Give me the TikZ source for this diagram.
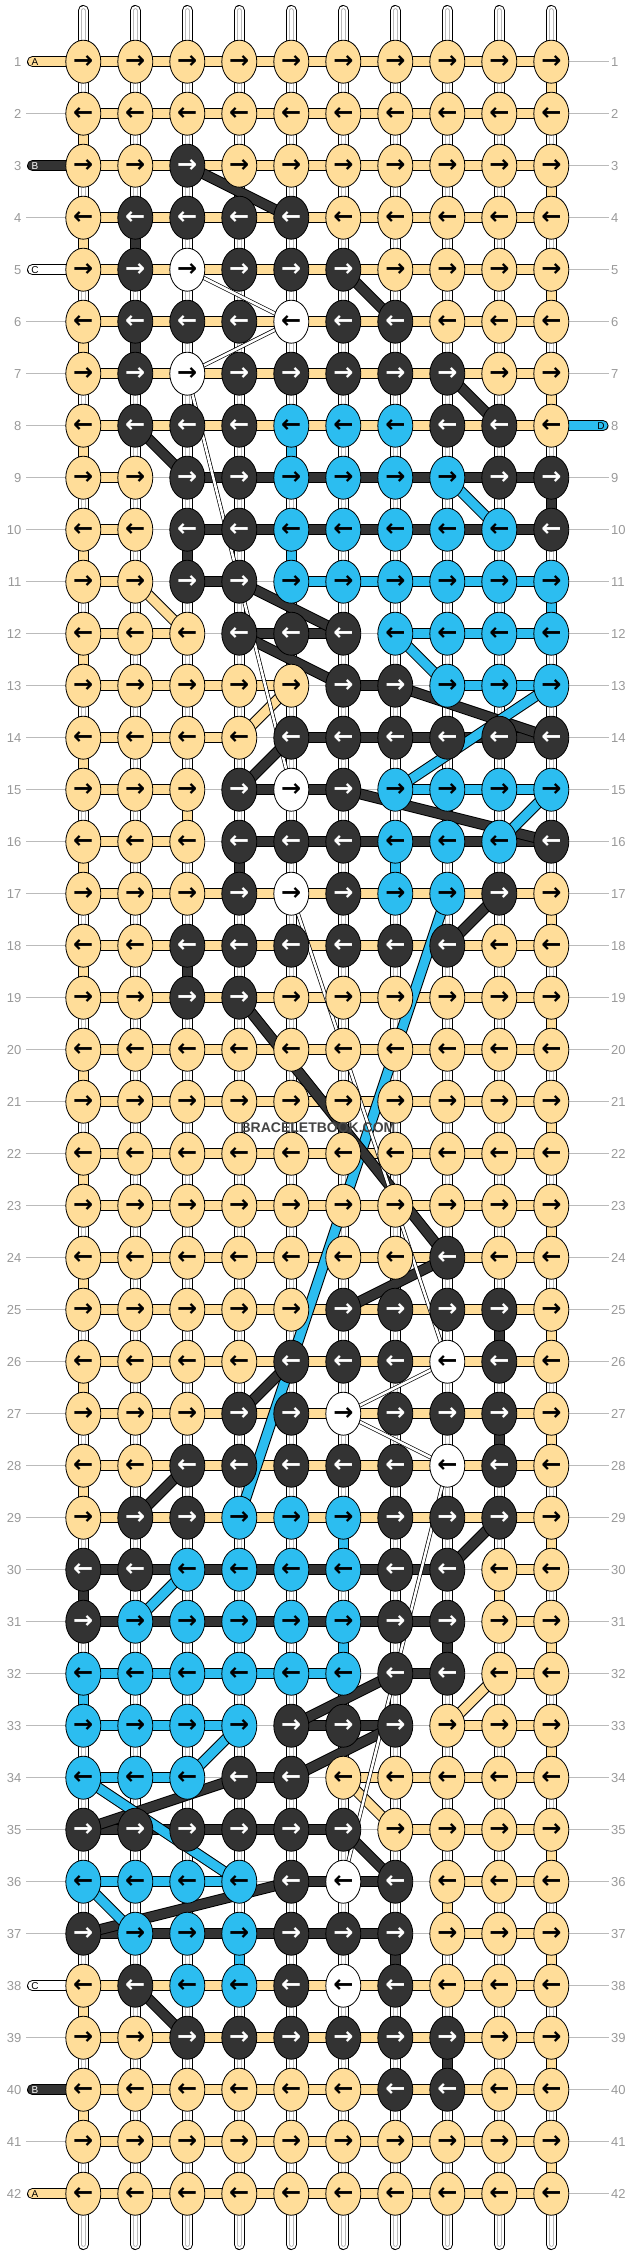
\documentclass[tikz,border=0pt]{standalone}
\usepackage{fontspec}
\setmainfont{Liberation Sans}
\newfontfamily\arrowfont{DejaVu Sans}
\usetikzlibrary{shapes.geometric}
\pgfdeclarelayer{back}
\pgfdeclarelayer{mid}
\pgfsetlayers{back,mid,main}
\definecolor{cA}{HTML}{FFDD99}
\definecolor{cB}{HTML}{333333}
\definecolor{cC}{HTML}{FFFFFF}
\definecolor{cD}{HTML}{2CBDF0}
\definecolor{numgray}{HTML}{999999}
\definecolor{warpgray}{HTML}{BBBBBB}
\definecolor{wmgray}{HTML}{444444}
\tikzset{
  knot/.style={ellipse, draw=black, line width=0.8pt, minimum width=35pt, minimum height=43pt, inner sep=0pt, font=\arrowfont\bfseries\fontsize{24}{24}\selectfont},
  kA/.style={knot, fill=cA, text=black},
  kB/.style={knot, fill=cB, text=white},
  kC/.style={knot, fill=cC, text=black},
  kD/.style={knot, fill=cD, text=black},
  seg/.style={line width=1pt, draw=black, double distance=9pt},
  segA/.style={seg, double=cA},
  segB/.style={seg, double=cB},
  segC/.style={seg, double=cC},
  segD/.style={seg, double=cD},
  segN/.style={opacity=0},
  thread/.style={line width=0.7pt, draw=black, double=white, double distance=2.6pt},
  warpout/.style={line width=11pt, draw=black, line cap=round},
  warpin/.style={line width=9pt, draw=white, line cap=round},
  warpmid/.style={line width=0.8pt, draw=warpgray, double=white, double distance=3pt, line cap=round},
  rowline/.style={draw=warpgray, line width=0.9pt},
  num/.style={font=\fontsize{13}{13}\selectfont, text=numgray, inner sep=0pt},
  strlab/.style={font=\fontsize{10}{10}\selectfont, inner sep=0pt},
}
\def\knotrow#1#2{\edef\kr{#1}\def\kc{0}\expandafter\kparse#2\relax}
\def\kparse#1{\ifx#1\relax\else\pgfmathtruncatemacro\kc{\kc+1}\placeknot{\kr}{\kc}{#1}\expandafter\kparse\fi}
\def\placeknot#1#2#3{\node[k#3] (k-#1-#2) at ({83.3+52*(#2-1)},{61.7+52*(#1-1)}) {\ifodd#1\relax →\else ←\fi};}
\def\segrow#1#2{\edef\sr{#1}\def\sc{0}\expandafter\sparse#2\relax}
\def\sparse#1{\ifx#1\relax\else\pgfmathtruncatemacro\sc{\sc+1}\pgfmathtruncatemacro\sd{\sc+1}\draw[seg#1] (k-\sr-\sc.center) -- (k-\sr-\sd.center);\expandafter\sparse\fi}
\begin{document}
\begin{tikzpicture}[x=1pt,y=-1pt]
\useasboundingbox (0,0) rectangle (636,2256);
% knots
\foreach \r/\s in {1/AAAAAAAAAA,2/AAAAAAAAAA,3/AABAAAAAAA,4/ABBBBAAAAA,5/ABCBBBAAAA,6/ABBBCBBAAA,7/ABCBBBBBAA,8/ABBBDDDBBA,9/AABBDDDDBB,10/AABBDDDDDB,11/AABBDDDDDD,12/AAABBBDDDD,13/AAAAABBDDD,14/AAAABBBBBB,15/AAABCBDDDD,16/AAABBBDDDB,17/AAABCBDDBA,18/AABBBBBBAA,19/AABBAAAAAA,20/AAAAAAAAAA,21/AAAAAAAAAA,22/AAAAAAAAAA,23/AAAAAAAAAA,24/AAAAAAABAA,25/AAAAABBBBA,26/AAAABBBCBA,27/AAABBCBBBA,28/AABBBBBCBA,29/ABBDDDBBBA,30/BBDDDDBBAA,31/BDDDDDBBAA,32/DDDDDDBBAA,33/DDDDBBBAAA,34/DDDBBAAAAA,35/BBBBBBAAAA,36/DDDDBCBAAA,37/BDDDBBBAAA,38/ABDDBCBAAA,39/AABBBBBBAA,40/AAAAAABBAA,41/AAAAAAAAAA,42/AAAAAAAAAA}{\knotrow{\r}{\s}}
% warps and row lines
\begin{pgfonlayer}{back}
\foreach \c in {1,...,10}{
  \coordinate (wt-\c) at ({83.3+52*(\c-1)},10.5);
  \coordinate (wb-\c) at ({83.3+52*(\c-1)},2244.5);
  \draw[warpout] (wt-\c) -- (wb-\c);
  \draw[warpin] (wt-\c) -- (wb-\c);
  \draw[warpmid] (wt-\c) -- (wb-\c);
}
\foreach \r in {1,...,42}{
  \coordinate (ll-\r) at (26,{61.7+52*(\r-1)});
  \coordinate (rl-\r) at (609,{61.7+52*(\r-1)});
  \draw[rowline] (k-\r-1.center) -- (k-\r-10.center);
}
\foreach \r in {2,4,6,7,8,9,10,11,12,13,14,15,16,17,18,19,20,21,22,23,24,25,26,27,28,29,30,31,32,33,34,35,36,37,39,41}{
  \draw[rowline] (ll-\r) -- (k-\r-1.center);
}
\foreach \r in {1,2,3,4,5,6,7,9,10,11,12,13,14,15,16,17,18,19,20,21,22,23,24,25,26,27,28,29,30,31,32,33,34,35,36,37,38,39,40,41,42}{
  \draw[rowline] (k-\r-10.center) -- (rl-\r);
}
\end{pgfonlayer}
% connectors
\begin{pgfonlayer}{mid}
\foreach \r/\s in {1/AAAAAAAAA,2/AAAAAAAAA,3/AAAAAAAAA,4/AAAAAAAAA,5/AAAAAAAAA,6/AAAAAAAAA,7/AAAAAAAAA,8/AAAAAAAAA,9/ANBBBBBBB,10/ANBBBBBBB,11/ANBNDDDDD,12/AANBBNDDD,13/AAAANBNDD,14/AAANBBBBB,15/AANBBNDDD,16/AANBBBBBB,17/AAAAAAAAA,18/AAAAAAAAA,19/AAAAAAAAA,20/AAAAAAAAA,21/AAAAAAAAA,22/AAAAAAAAA,23/AAAAAAAAA,24/AAAAAAAAA,25/AAAAAAAAA,26/AAAAAAAAA,27/AAAAAAAAA,28/AAAAAAAAA,29/AAAAAAAAA,30/BBBBBBBNA,31/BBBBBBBNA,32/DDDDDNBNA,33/DDDNBBNAA,34/DDNBNAAAA,35/BBBBBNAAA,36/DDDNBBNAA,37/BBBBBBNAA,38/AAAAAAAAA,39/AAAAAAAAA,40/AAAAAAAAA,41/AAAAAAAAA,42/AAAAAAAAA}{\segrow{\r}{\s}}
% vertical coloured segments
\foreach \r/\c/\s in {2/1/A,4/1/A,6/1/A,8/1/A,10/1/A,12/1/A,14/1/A,16/1/A,18/1/A,20/1/A,22/1/A,24/1/A,26/1/A,28/1/A,30/1/B,32/1/D,38/1/A,40/1/A,
  1/10/A,3/10/A,5/10/A,7/10/A,9/10/B,11/10/D,17/10/A,19/10/A,21/10/A,23/10/A,25/10/A,27/10/A,29/10/A,31/10/A,33/10/A,35/10/A,37/10/A,39/10/A,41/10/A,
  4/2/B,6/2/B,8/5/D,10/3/B,10/5/D,15/3/A,16/4/B,16/7/D,18/3/B,25/9/B,27/9/B,29/6/D,30/9/A,31/6/D,31/8/B,36/8/A,37/7/B,37/4/D,39/8/B}{
  \pgfmathtruncatemacro\rr{\r+1}
  \draw[seg\s] (k-\r-\c.center) -- (k-\rr-\c.center);
}
% diagonal threads
\draw[segD] (k-17-8.center) -- (k-29-4.center);
\foreach \ra/\ca/\rb/\cb/\s in {3/3/4/5/B,5/6/6/7/B,7/8/8/9/B,8/2/9/3/B,9/8/10/9/D,11/2/12/3/A,11/4/12/6/B,12/4/13/6/B,12/7/13/8/D,13/5/14/4/A,13/7/14/10/B,13/10/15/7/D,14/5/15/4/B,15/6/16/10/B,15/10/16/9/D,17/9/18/8/B,19/4/24/8/B,24/8/25/6/B,26/5/27/4/B,28/3/29/2/B,29/9/30/8/B,30/3/31/2/D,32/7/33/5/B,32/9/33/8/A,33/4/34/3/D,33/7/34/5/B,34/4/35/1/B,34/1/36/4/D,34/6/35/7/A,35/6/36/7/B,36/5/37/1/B,36/1/37/2/D,38/2/39/3/B}{
  \draw[seg\s] (k-\ra-\ca.center) -- (k-\rb-\cb.center);
}
% white thread
\foreach \ra/\ca/\rb/\cb in {5/3/6/5,6/5/7/3,7/3/15/5,17/5/26/8,26/8/27/6,27/6/28/8,28/8/36/6}{
  \draw[thread] (k-\ra-\ca.center) -- (k-\rb-\cb.center);
}
% string ends
\foreach \r/\s in {1/A,3/B,5/C,38/C,40/B,42/A}{
  \coordinate (sl-\r) at (32.5,{61.7+52*(\r-1)});
  \draw[seg\s, line cap=round] (sl-\r) -- (k-\r-1.center);
}
\coordinate (sr-8) at (603,{61.7+52*7});
\draw[segD, line cap=round] (k-8-10.center) -- (sr-8);
\end{pgfonlayer}
% string letters
\foreach \r/\s/\t in {1/A/black,3/B/white,5/C/black,38/C/black,40/B/white,42/A/black}{
  \node[strlab, text=\t] (lab-\r) at (35,{61.7+52*(\r-1)}) {\s};
}
\node[strlab, text=black] (lab-8) at (601,{61.7+52*7}) {D};
% row numbers
\foreach \r in {1,...,42}{
  \node[num, anchor=east] (nl-\r) at (21.5,{61.7+52*(\r-1)}) {\r};
  \node[num, anchor=west] (nr-\r) at (611,{61.7+52*(\r-1)}) {\r};
}
% watermark
\node[font=\fontsize{14}{14}\selectfont\bfseries, text=wmgray, inner sep=0pt] (wm) at (318,1127.5) {BRACELETBOOK.COM};
\end{tikzpicture}
\end{document}
